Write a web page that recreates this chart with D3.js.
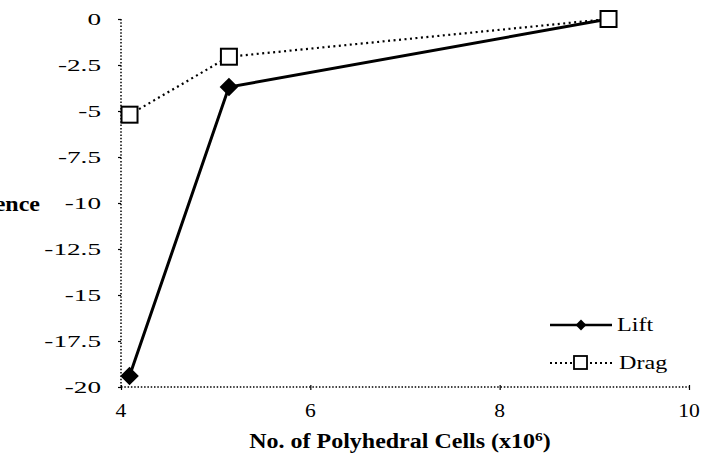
<!DOCTYPE html>
<html>
<head>
<meta charset="utf-8">
<script src="https://cdn.jsdelivr.net/npm/d3@7"></script>
<style>
  html, body { margin: 0; padding: 0; background: #fff; }
  svg { display: block; font-family: "Liberation Serif", "Times New Roman", serif; }
</style>
</head>
<body>
<svg id="chart" width="704" height="465"></svg>
<script>
// Mesh-size study: percentage difference against the finest mesh
const cells = [4.09, 5.14, 9.15];
const liftDiff = [-19.4, -3.7, 0];
const dragDiff = [-5.2, -2.05, 0];
const xTicks = [4, 6, 8, 10];
const yTicks = [0, -2.5, -5, -7.5, -10, -12.5, -15, -17.5, -20];
const seriesNames = ["Lift", "Drag"];

const svg = d3.select("#chart");
const x = d3.scaleLinear().domain([4, 10]).range([121, 689]);
const y = d3.scaleLinear().domain([-20, 0]).range([387, 19]);

// Type in this figure is set wide
function wideText(parent, px, py, str, opts = {}) {
  const t = parent.append("text")
    .attr("transform", `translate(${px},${py}) scale(${opts.sx || 1.3},1)`)
    .attr("text-anchor", opts.anchor || "start")
    .attr("font-family", "Liberation Serif, Times New Roman, serif")
    .attr("font-size", opts.size || 17)
    .attr("fill", "#000");
  if (opts.bold) t.attr("font-weight", "bold");
  if (opts.html) t.html(str); else t.text(str);
  return t;
}
const fmt = d => String(d);

// Axes: dotted axis lines with small tick marks
const xAxis = svg.append("g").attr("transform", `translate(0,${y(-20)})`)
  .call(d3.axisBottom(x).tickValues(xTicks).tickSize(4).tickFormat(""));
xAxis.select(".domain").attr("d", `M${x(4)},0H${x(10)}`)
  .attr("stroke", "#000").attr("stroke-width", 1.5).attr("stroke-dasharray", "1.5,1.8");
xAxis.selectAll(".tick line").attr("stroke", "#000").attr("stroke-width", 1.2).attr("y1", -2).attr("y2", 3);
xAxis.selectAll(".tick text").remove();
xTicks.forEach(v => wideText(svg, x(v), 417, fmt(v), { anchor: "middle", size: 18, sx: 1.2 }));

const yAxis = svg.append("g").attr("transform", `translate(${x(4)},0)`)
  .call(d3.axisLeft(y).tickValues(yTicks).tickSize(3).tickFormat(""));
yAxis.select(".domain").attr("d", `M0,${y(0)}V${y(-20)}`)
  .attr("stroke", "#000").attr("stroke-width", 1.5).attr("stroke-dasharray", "1.5,1.8");
yAxis.selectAll(".tick line").attr("stroke", "#000").attr("stroke-width", 1.2);
yAxis.selectAll(".tick text").remove();
yTicks.forEach(v => wideText(svg, 101, y(v) + 6, fmt(v), { anchor: "end", size: 17, sx: 1.6 }));

// Axis titles
wideText(svg, 400, 448,
  'No. of Polyhedral Cells (x10<tspan dy="-7" font-size="13">6</tspan><tspan dy="7">)</tspan>',
  { anchor: "middle", size: 20, bold: true, html: true, sx: 1.2 });
wideText(svg, 40, 211, "% Difference", { anchor: "end", size: 20, bold: true, sx: 1.2 });

const line = d3.line().x(d => x(d[0])).y(d => y(d[1]));

// Drag: dotted line with open squares
const dragPts = cells.map((c, i) => [c, dragDiff[i]]);
svg.append("path").datum(dragPts).attr("d", line).attr("fill", "none")
  .attr("stroke", "#000").attr("stroke-width", 2.2).attr("stroke-dasharray", "2,3.5");

// Lift: solid line with filled diamonds
const liftPts = cells.map((c, i) => [c, liftDiff[i]]);
svg.append("path").datum(liftPts).attr("d", line).attr("fill", "none")
  .attr("stroke", "#000").attr("stroke-width", 3);

const diamond = d3.symbol().type(d3.symbolDiamond2).size(220);
svg.selectAll(".lift-pt").data(liftPts.slice(0, 2)).join("path")
  .attr("class", "lift-pt")
  .attr("transform", d => `translate(${x(d[0])},${y(d[1])})`)
  .attr("d", diamond).attr("fill", "#000");

svg.selectAll(".drag-pt").data(dragPts).join("rect")
  .attr("class", "drag-pt")
  .attr("x", d => x(d[0]) - 8).attr("y", d => y(d[1]) - 8)
  .attr("width", 16).attr("height", 16)
  .attr("fill", "#fff").attr("stroke", "#000").attr("stroke-width", 2);

// Legend
const legend = svg.append("g");
const rows = [325, 363];
legend.append("line").attr("x1", 550).attr("x2", 612).attr("y1", rows[0]).attr("y2", rows[0])
  .attr("stroke", "#000").attr("stroke-width", 2.5);
legend.append("path").attr("transform", `translate(581,${rows[0]})`)
  .attr("d", d3.symbol().type(d3.symbolDiamond2).size(75)).attr("fill", "#000");
wideText(legend, 617, rows[0] + 6, seriesNames[0], { size: 19, sx: 1.27 });

legend.append("line").attr("x1", 550).attr("x2", 612).attr("y1", rows[1]).attr("y2", rows[1])
  .attr("stroke", "#000").attr("stroke-width", 2).attr("stroke-dasharray", "2,3");
legend.append("rect").attr("x", 574).attr("y", rows[1] - 7).attr("width", 13).attr("height", 13)
  .attr("fill", "#fff").attr("stroke", "#000").attr("stroke-width", 1.8);
wideText(legend, 619, rows[1] + 6, seriesNames[1], { size: 19, sx: 1.27 });
</script>
</body>
</html>
